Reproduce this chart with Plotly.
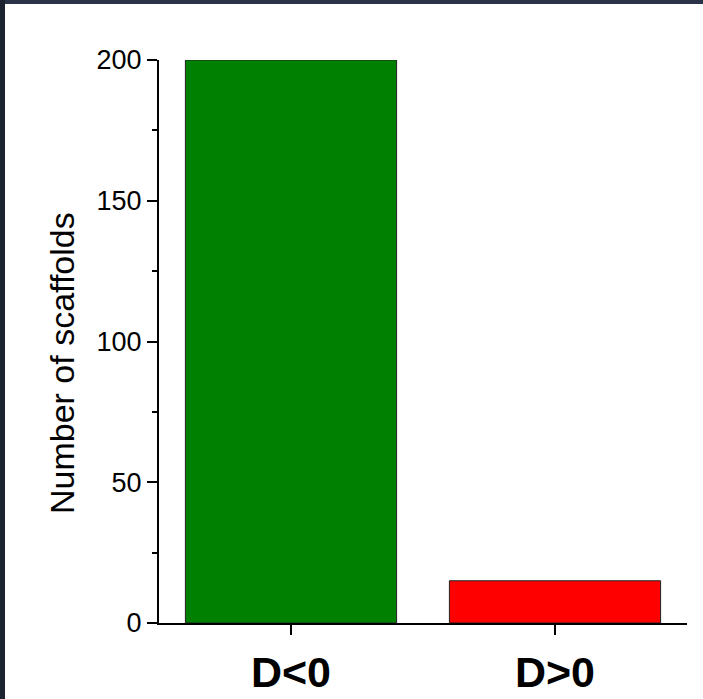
import plotly.graph_objects as go

categories = ["D<0", "D>0"]
values = [200, 15]
colors = ["#008000", "#ff0000"]
y_ticks = [0, 50, 100, 150, 200]
y_title = "Number of scaffolds"

W, H = 703, 699
L, R, T, B = 159, 16, 60, 76
pw, ph = W - L - R, H - T - B

def px_x(x):
    return (x - L) / pw

def px_y(y):
    return 1 - (y - T) / ph

fig = go.Figure()
fig.add_trace(go.Bar(
    x=[0, 1], y=values, width=0.8,
    marker=dict(color=colors, line=dict(color="#222222", width=1)),
))

fig.update_layout(
    width=W, height=H,
    margin=dict(l=L, r=R, t=T, b=B, pad=0),
    paper_bgcolor="white", plot_bgcolor="white",
    showlegend=False,
    font=dict(family="Liberation Sans, Arial, sans-serif", color="black"),
    shapes=[
        dict(type="rect", xref="paper", yref="paper", layer="above",
             x0=px_x(0), x1=px_x(W), y0=px_y(4), y1=px_y(0),
             fillcolor="#2a3348", line=dict(width=0)),
        dict(type="rect", xref="paper", yref="paper", layer="above",
             x0=px_x(0), x1=px_x(5), y0=px_y(H), y1=px_y(0),
             fillcolor="#1d2331", line=dict(width=0)),
    ],
    annotations=[
        dict(text=y_title, textangle=-90, xref="paper", yref="paper",
             x=px_x(62), y=px_y(363), xanchor="center", yanchor="middle",
             showarrow=False, font=dict(size=34, color="black")),
    ],
)
fig.update_xaxes(
    range=[-0.5, 1.5], tickmode="array", tickvals=[0, 1], ticktext=categories,
    showline=True, linecolor="black", linewidth=2,
    ticks="outside", ticklen=10, tickwidth=2, tickcolor="black",
    showgrid=False, zeroline=False, automargin=False,
    tickfont=dict(size=43, family="Liberation Sans, Arial, sans-serif", weight="bold"),
)
fig.update_yaxes(
    range=[0, 200], tickmode="array", tickvals=y_ticks,
    showline=True, linecolor="black", linewidth=2,
    ticks="outside", ticklen=10, tickwidth=2, tickcolor="black",
    minor=dict(dtick=25, ticks="outside", ticklen=5, tickwidth=2, tickcolor="black", showgrid=False),
    showgrid=False, zeroline=False, automargin=False,
    tickfont=dict(size=27),
)

fig.write_html("out.html", config={"displayModeBar": False},
               post_script="document.body.style.margin='0';document.body.style.overflow='hidden';")
